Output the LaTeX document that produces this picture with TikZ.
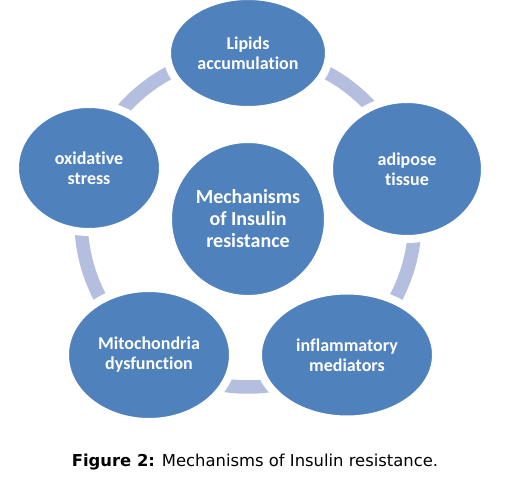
\documentclass[tikz,border=0pt]{standalone}
\usepackage{fontspec}
\setmainfont{Carlito}[Ligatures=NoCommon]
\newfontfamily\capfont{DejaVu Sans}
\usetikzlibrary{shapes.geometric}
\definecolor{blobblue}{RGB}{79,129,189}
\definecolor{ringcol}{RGB}{180,190,222}
\tikzset{
  blob/.style={ellipse, fill=blobblue, draw=white, line width=8pt, inner sep=0pt},
  blobtext/.style={text=white, align=center, font=\fontsize{18}{20}\selectfont\bfseries},
  centertext/.style={text=white, align=center, font=\fontsize{20}{22}\selectfont\bfseries},
  ringstyle/.style={draw=ringcol, line width=13.5pt}
}
\begin{document}
\begin{tikzpicture}[x=1pt,y=-1pt]
\useasboundingbox (0,0) rectangle (508,481);
\coordinate (ringc) at (248,220);
\draw[ringstyle] (ringc) circle[radius=167pt];
\node[blob, minimum width=162pt, minimum height=114pt] (top) at (248,53) {};
\node[blob, minimum width=156pt, minimum height=140pt] (right) at (407,169) {};
\node[blob, minimum width=178pt, minimum height=129pt] (bright) at (347,355) {};
\node[blob, minimum width=168pt, minimum height=134pt] (bleft) at (149,355) {};
\node[blob, minimum width=148pt, minimum height=128pt] (left) at (89,168) {};
\node[blob, minimum width=160pt, minimum height=160pt] (mid) at (248,219) {};
\node[blobtext] at (top) {Lipids\\accumulation};
\node[blobtext] at (right) {adipose\\tissue};
\node[blobtext] at (bright) {inflammatory\\mediators};
\node[blobtext] at (bleft) {Mitochondria\\dysfunction};
\node[blobtext] at (left) {oxidative\\stress};
\node[centertext] at (mid) {Mechanisms\\of Insulin\\resistance};
\node[font=\capfont\fontsize{16.4}{19}\selectfont] (cap) at (255,462) {\textbf{Figure 2:} Mechanisms of Insulin resistance.};
\end{tikzpicture}
\end{document}
